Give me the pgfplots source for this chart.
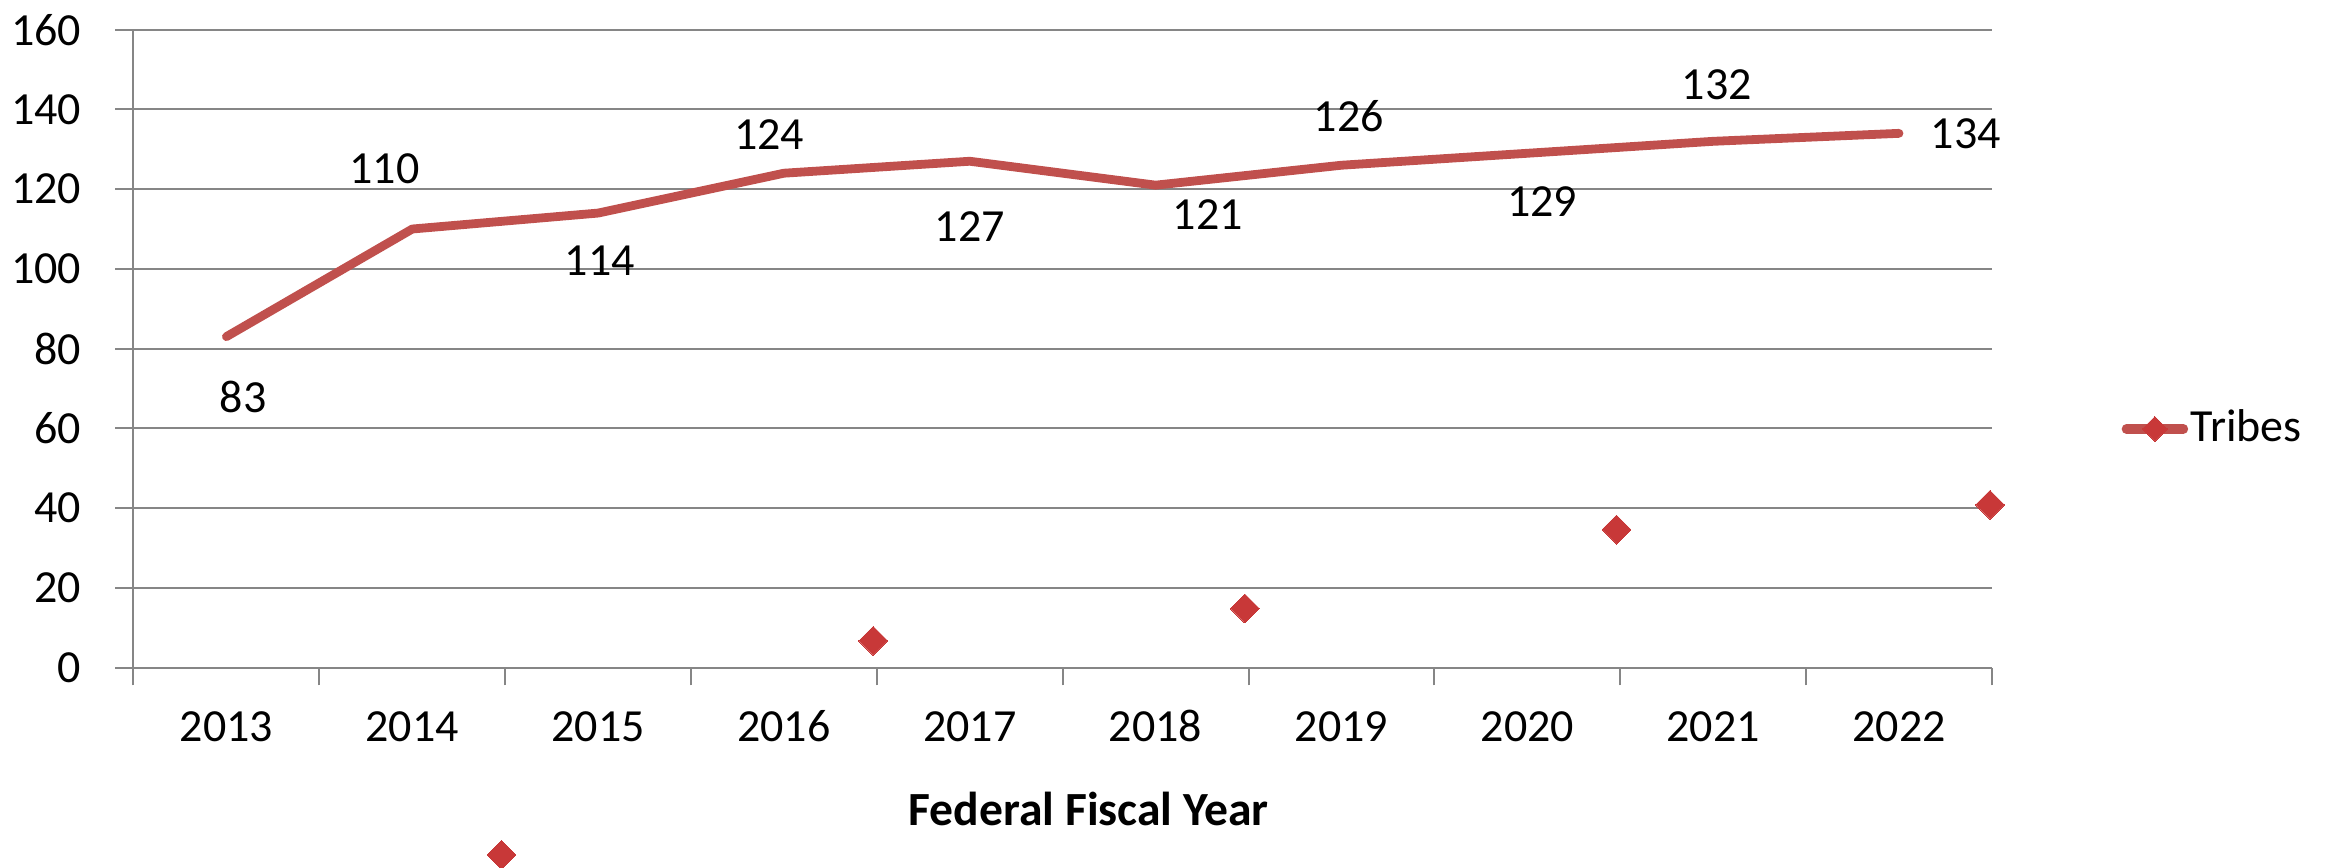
\documentclass[border=0pt]{standalone}
\usepackage{pgfplots}
\pgfplotsset{compat=1.18}
\usepackage{fontspec}
\setmainfont{Carlito}
\definecolor{tribes}{RGB}{192,80,77}
\definecolor{tribesmk}{RGB}{200,56,56}
\definecolor{gridgray}{RGB}{134,134,134}

\begin{document}
\fontsize{11.5}{13.8}\selectfont
\begin{tikzpicture}
\useasboundingbox (-33.375pt,-50.125pt) rectangle (548.125pt,166.875pt);
\begin{axis}[
    at={(0,0)}, anchor=south west,
    width=464.6pt, height=159.45pt, scale only axis,
    xmin=-0.5, xmax=9.5, ymin=0, ymax=160,
    clip=false,
    /pgf/number format/assume math mode=true,
    axis lines=left,
    axis line style={-, draw=gridgray, line width=0.5pt},
    ytick={0,20,...,160},
    xtick={-0.5,0.5,...,9.5},
    xticklabels={},
    extra x ticks={0,1,2,3,4,5,6,7,8,9},
    extra x tick labels={2013,2014,2015,2016,2017,2018,2019,2020,2021,2022},
    extra x tick style={major tick length=0pt, grid=none},
    tick align=outside,
    major tick length=4.5pt,
    tick style={draw=gridgray, line width=0.5pt},
    ymajorgrids=true,
    grid style={draw=gridgray, line width=0.5pt},
    yticklabel style={anchor=east, inner sep=0pt, xshift=-8.4pt},
    xticklabel style={anchor=base, inner sep=0pt},
    extra x tick style={xticklabel style={anchor=base, inner sep=0pt, yshift=-18.5pt}},
    xlabel={\fontsize{11.9}{14}\selectfont\bfseries Federal Fiscal Year},
    xlabel style={at={(axis description cs:0.514,0)}, anchor=base, inner sep=0pt, yshift=-39.4pt},
    legend style={draw=none, fill=none, at={(axis description cs:1.0694,0.374)}, anchor=west,
        inner sep=0pt, nodes={inner sep=0.6pt}},
    legend image code/.code={\draw[mark repeat=2,mark phase=2,#1] plot coordinates {(0cm,0cm) (0.25cm,0cm) (0.5cm,0cm)};},
]
% line (no markers on it)
\addplot[forget plot, tribes, line width=2.2pt, line cap=round, line join=round] coordinates {
    (0,83) (1,110) (2,114) (3,124) (4,127) (5,121) (6,126) (7,129) (8,132) (9,134)
};
% stray markers as they appear in the chart
\addplot[forget plot, tribesmk, only marks, mark=square*, mark size=2.55pt,
    mark options={rotate=45, fill=tribesmk, draw=tribesmk, line width=0pt}] coordinates {
    (1.48,-47.0) (3.48,6.7) (5.48,14.8) (7.48,34.6) (9.49,40.8)
};
% data labels
\addplot[forget plot, only marks, mark=none, point meta=explicit symbolic,
    nodes near coords, every node near coord/.style={anchor=center, inner sep=0pt, text=black}]
    coordinates {
    (0.09,67.8)[83] (0.85,125.0)[110] (2.01,102.0)[114] (2.92,133.6)[124]
    (4.00,110.5)[127] (5.28,113.5)[121] (6.04,138.4)[126] (7.08,116.8)[129]
    (8.02,146.2)[132] (9.36,134.0)[134]
};
\addlegendimage{tribes, line width=2.4pt, line cap=round, mark=square*, mark size=2.2pt,
    mark options={rotate=45, fill=tribesmk, draw=tribesmk, line width=0pt}}
\addlegendentry{Tribes}
\end{axis}
\end{tikzpicture}
\end{document}
